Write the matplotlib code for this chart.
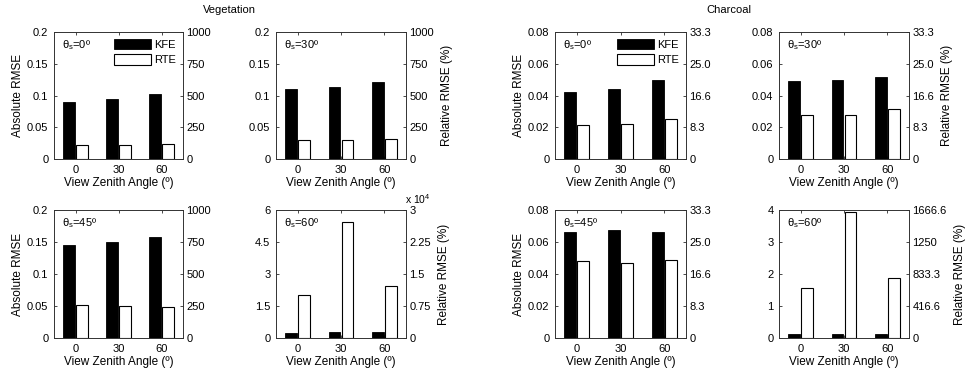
import matplotlib
matplotlib.use("Agg")
import matplotlib.pyplot as plt
import numpy as np
from matplotlib.patches import Patch

plt.rcParams['font.family'] = ['Liberation Sans', 'DejaVu Sans']
plt.rcParams['mathtext.fontset'] = 'custom'
plt.rcParams['mathtext.rm'] = 'Liberation Sans'
plt.rcParams['mathtext.it'] = 'Liberation Sans'

# ---------------- data ----------------
vza_labels = ['0', '30', '60']
sun_angles = [0, 30, 45, 60]

veg_kfe = [[0.090, 0.094, 0.102],
           [0.110, 0.114, 0.122],
           [0.145, 0.150, 0.158],
           [0.25, 0.26, 0.26]]
veg_rte = [[0.022, 0.022, 0.024],
           [0.030, 0.030, 0.031],
           [0.052, 0.050, 0.049],
           [2.03, 5.42, 2.44]]

char_kfe = [[0.0425, 0.0440, 0.0495],
            [0.0490, 0.0500, 0.0515],
            [0.0665, 0.0675, 0.0660],
            [0.12, 0.13, 0.11]]
char_rte = [[0.0213, 0.0218, 0.0255],
            [0.0277, 0.0280, 0.0315],
            [0.0480, 0.0470, 0.0490],
            [1.57, 3.93, 1.88]]

veg_left_ticks = [0, 0.05, 0.1, 0.15, 0.2]
veg_left_labels = ['0', '0.05', '0.1', '0.15', '0.2']
veg60_left_ticks = [0, 1.5, 3, 4.5, 6]
veg60_left_labels = ['0', '1.5', '3', '4.5', '6']
veg_right_labels = ['0', '250', '500', '750', '1000']
veg60_right_labels = ['0', '0.75', '1.5', '2.25', '3']

char_left_ticks = [0, 0.02, 0.04, 0.06, 0.08]
char_left_labels = ['0', '0.02', '0.04', '0.06', '0.08']
char60_left_ticks = [0, 1, 2, 3, 4]
char60_left_labels = ['0', '1', '2', '3', '4']
char_right_labels = ['0', '8.3', '16.6', '25.0', '33.3']
char60_right_labels = ['0', '416.6', '833.3', '1250', '1666.6']

# ---------------- layout ----------------
W, H = 968, 374
fig = plt.figure(figsize=(W / 100, H / 100), dpi=100)

cols_px = [(54, 183), (276, 406), (555, 686), (779, 909)]
rows_px = [(32, 159), (210, 338)]

def add_ax(c, r):
    x0, x1 = cols_px[c]
    y0, y1 = rows_px[r]
    return fig.add_axes([x0 / W, (H - y1) / H, (x1 - x0) / W, (y1 - y0) / H])

FS = 8
LFS = 8.5
spine_col = '#333333'

def draw(ax, kfe, rte, lticks, llabels, rlabels, sun, left_label, right_label, legend=False, offset=None):
    x = np.arange(1, len(vza_labels) + 1)
    bw = 0.27
    ax.bar(x - 0.15, kfe, width=bw, color='black', edgecolor='black', linewidth=0.6, label='KFE')
    ax.bar(x + 0.15, rte, width=bw, color='white', edgecolor='black', linewidth=0.8, label='RTE')
    ax.set_xlim(0.5, 3.5)
    ax.set_ylim(lticks[0], lticks[-1])
    ax.set_xticks(x)
    ax.set_xticklabels(vza_labels, fontsize=FS)
    ax.set_yticks(lticks)
    ax.set_yticklabels(llabels, fontsize=FS)
    ax.tick_params(direction='in', length=2.5, width=0.5, top=True, right=False, colors='black')
    ax.tick_params(axis='x', pad=4.5)
    ax.tick_params(axis='y', pad=4)
    ax.set_xlabel('View Zenith Angle (º)', fontsize=LFS, labelpad=1)
    for s in ax.spines.values():
        s.set_linewidth(0.6)
        s.set_color(spine_col)
    if left_label:
        ax.set_ylabel('Absolute RMSE', fontsize=LFS, labelpad=2)
    ax.text(0.06, 0.955, 'θ$_\\mathrm{s}$=%dº' % sun, transform=ax.transAxes,
            fontsize=FS, ha='left', va='top')
    ax2 = ax.twinx()
    ax2.set_ylim(lticks[0], lticks[-1])
    ax2.set_yticks(lticks)
    ax2.set_yticklabels(rlabels, fontsize=FS)
    ax2.tick_params(direction='in', length=2.5, width=0.5, pad=2.5)
    for s in ax2.spines.values():
        s.set_linewidth(0.6)
        s.set_color(spine_col)
    if right_label:
        ax2.set_ylabel('Relative RMSE (%)', fontsize=LFS, labelpad=5)
    if offset:
        ax.text(0.99, 1.035, offset, transform=ax.transAxes, fontsize=FS - 0.5,
                ha='left', va='bottom')
    if legend:
        handles = [Patch(facecolor='black', edgecolor='black', linewidth=0.6, label='KFE'),
                   Patch(facecolor='white', edgecolor='black', linewidth=0.8, label='RTE')]
        ax.legend(handles=handles, loc='upper right', bbox_to_anchor=(1.0, 1.0),
                  frameon=False, fontsize=FS, handlelength=3.25, handleheight=1.08,
                  labelspacing=0.4, handletextpad=0.35, borderaxespad=0.6, borderpad=0.0)
    return ax

groups = [
    (0, veg_kfe, veg_rte, veg_left_ticks, veg_left_labels, veg_right_labels,
     veg60_left_ticks, veg60_left_labels, veg60_right_labels, 'x 10$^{4}$'),
    (2, char_kfe, char_rte, char_left_ticks, char_left_labels, char_right_labels,
     char60_left_ticks, char60_left_labels, char60_right_labels, None),
]

for c0, kfe, rte, lt, ll, rl, lt60, ll60, rl60, off in groups:
    for i, sun in enumerate(sun_angles):
        r = i // 2
        c = c0 + i % 2
        ax = add_ax(c, r)
        if sun == 60:
            draw(ax, kfe[i], rte[i], lt60, ll60, rl60, sun,
                 left_label=(i % 2 == 0), right_label=(i % 2 == 1), offset=off)
        else:
            draw(ax, kfe[i], rte[i], lt, ll, rl, sun,
                 left_label=(i % 2 == 0), right_label=(i % 2 == 1), legend=(i == 0))

fig.text(229 / W, 1 - 10 / H, 'Vegetation', fontsize=FS, ha='center', va='center')
fig.text(729 / W, 1 - 10 / H, 'Charcoal', fontsize=FS, ha='center', va='center')

fig.savefig('out.png', dpi=100)
